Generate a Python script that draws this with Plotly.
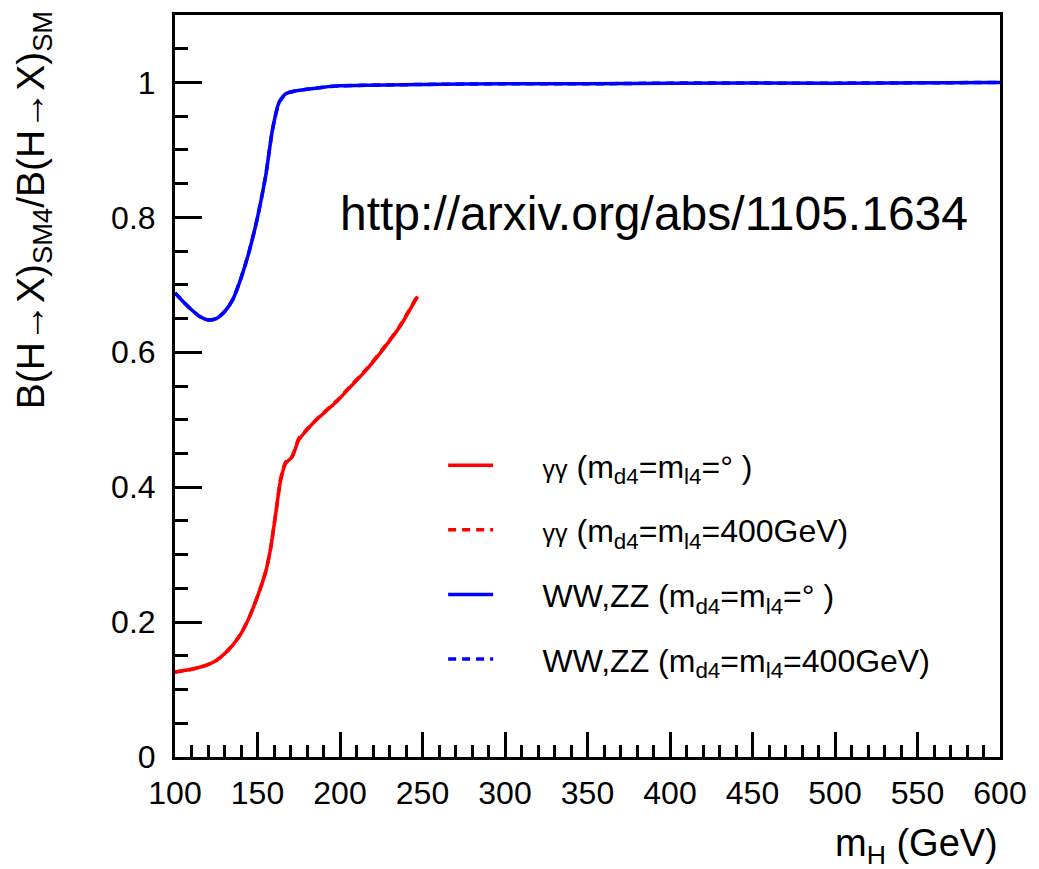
import plotly.graph_objects as go

# Higgs mass grid (GeV) and branching-ratio ratios SM4/SM
mh_gg = [100, 105, 110, 115, 120, 125, 130, 135, 140, 145, 150, 155, 158, 161,
         164, 167, 171, 175, 180, 188, 198, 206, 216, 226, 236, 247]
r_gg_inf = [0.126, 0.128, 0.130, 0.133, 0.137, 0.143, 0.153, 0.166, 0.183, 0.207,
            0.238, 0.275, 0.310, 0.360, 0.410, 0.435, 0.445, 0.470, 0.485, 0.505,
            0.527, 0.548, 0.574, 0.604, 0.637, 0.683]
r_gg_400 = [0.126, 0.128, 0.130, 0.133, 0.137, 0.143, 0.153, 0.166, 0.183, 0.207,
            0.238, 0.275, 0.310, 0.360, 0.412, 0.437, 0.446, 0.472, 0.486, 0.506,
            0.528, 0.549, 0.575, 0.605, 0.638, 0.684]

mh_vv = [100, 105, 110, 115, 120, 125, 130, 135, 140, 145, 150, 155, 159, 163,
         167, 172, 180, 190, 200, 250, 300, 350, 400, 500, 600]
r_vv_inf = [0.688, 0.675, 0.663, 0.653, 0.648, 0.650, 0.660, 0.678, 0.710, 0.750,
            0.800, 0.862, 0.929, 0.970, 0.983, 0.987, 0.990, 0.993, 0.995, 0.997,
            0.998, 0.998, 0.999, 0.999, 1.000]
r_vv_400 = [0.688, 0.675, 0.663, 0.653, 0.648, 0.650, 0.660, 0.678, 0.710, 0.750,
            0.800, 0.862, 0.929, 0.970, 0.983, 0.987, 0.990, 0.993, 0.995, 0.997,
            0.998, 0.998, 0.999, 0.999, 1.000]

x_ticks = [100, 150, 200, 250, 300, 350, 400, 450, 500, 550, 600]
y_ticks = [0, 0.2, 0.4, 0.6, 0.8, 1]
y_tick_text = ["0", "0.2", "0.4", "0.6", "0.8", "1"]

RED = "#ff0000"
BLUE = "#0000ff"
FONT = "Liberation Sans, Arial, sans-serif"
PAD = "\u00a0" * 5

gg = "<span style='font-size:25px'>γγ</span>"
labels = [
    PAD + gg + " (m<sub>d4</sub>=m<sub>l4</sub>=° )",
    PAD + gg + " (m<sub>d4</sub>=m<sub>l4</sub>=400GeV)",
    PAD + "WW,ZZ (m<sub>d4</sub>=m<sub>l4</sub>=° )",
    PAD + "WW,ZZ (m<sub>d4</sub>=m<sub>l4</sub>=400GeV)",
]

fig = go.Figure()
series = [
    (mh_gg, r_gg_inf, RED, "solid"),
    (mh_gg, r_gg_400, RED, "8px,6px"),
    (mh_vv, r_vv_inf, BLUE, "solid"),
    (mh_vv, r_vv_400, BLUE, "8px,6px"),
]
for i, (xs, ys, col, dash) in enumerate(series):
    fig.add_trace(go.Scatter(
        x=xs, y=ys, mode="lines", name=labels[i], legendgroup=f"g{i}",
        line=dict(color=col, width=3.5, dash=dash, shape="spline", smoothing=0.6),
    ))

axis_common = dict(
    showline=True, linecolor="black", linewidth=3, mirror=True,
    ticks="inside", tickcolor="black", tickwidth=2.5,
    showgrid=False, zeroline=False,
    tickfont=dict(family=FONT, size=32, color="black"),
)

fig.update_xaxes(
    range=[100, 600], tickvals=x_ticks, ticklen=25,
    minor=dict(dtick=10, tick0=100, ticks="inside", ticklen=12,
               tickcolor="black", tickwidth=2.5, showgrid=False),
    ticklabelstandoff=6,
    **axis_common,
)
fig.update_yaxes(
    range=[0, 1.1], tickvals=y_ticks, ticktext=y_tick_text, ticklen=27,
    minor=dict(dtick=0.05, tick0=0, ticks="inside", ticklen=13,
               tickcolor="black", tickwidth=2.5, showgrid=False),
    ticklabelstandoff=10,
    **axis_common,
)

fig.add_annotation(
    text="B(H→X)<sub>SM4</sub>/B(H→X)<sub>SM</sub>",
    xref="paper", yref="paper", x=-0.172, y=1.008,
    xanchor="center", yanchor="top", textangle=-90, showarrow=False,
    font=dict(family=FONT, size=39, color="black"),
)
fig.add_annotation(
    text="m<sub>H</sub> (GeV)",
    xref="paper", yref="paper", x=1.0, y=-0.085,
    xanchor="right", yanchor="top", showarrow=False,
    font=dict(family=FONT, size=38, color="black"),
)
fig.add_annotation(
    text="http://arxiv.org/abs/1105.1634",
    xref="x", yref="y", x=390, y=0.806,
    xanchor="center", yanchor="middle", showarrow=False,
    font=dict(family=FONT, size=48, color="black"),
)

fig.update_layout(
    width=1039, height=869,
    margin=dict(l=175, r=35, t=14, b=112),
    paper_bgcolor="white", plot_bgcolor="white",
    showlegend=True,
    legend=dict(
        x=0.325, y=0.43, xanchor="left", yanchor="top",
        bgcolor="rgba(0,0,0,0)", borderwidth=0,
        font=dict(family=FONT, size=32, color="black"),
        itemwidth=45, tracegroupgap=20, traceorder="grouped",
    ),
)

fig.write_html("out.html")
